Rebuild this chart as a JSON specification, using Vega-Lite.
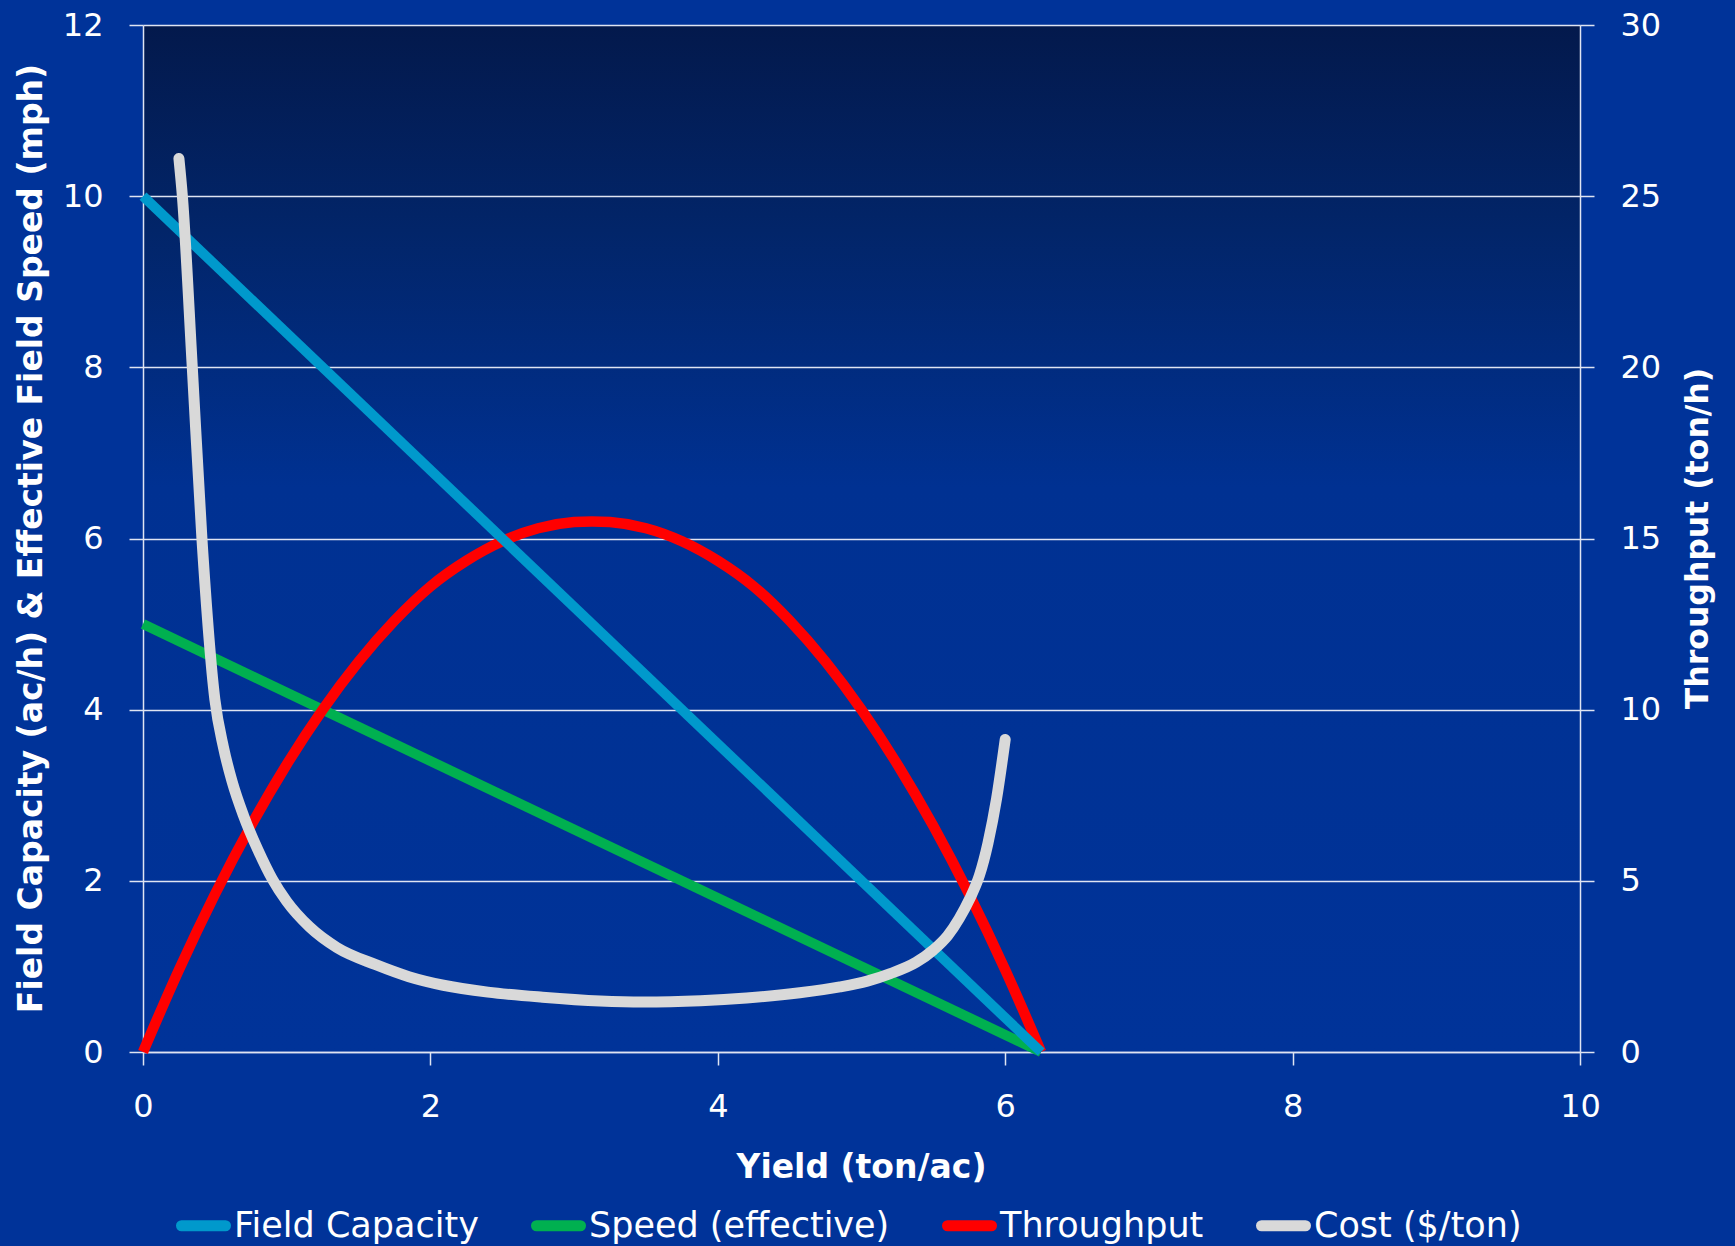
{
  "$schema": "https://vega.github.io/schema/vega-lite/v6.json",
  "width": 1437,
  "height": 1027,
  "autosize": {"type": "none"},
  "padding": {"left": 143, "top": 25, "right": 155, "bottom": 194},
  "background": "#003399",
  "config": {
    "font": "DejaVu Sans",
    "view": {
      "stroke": null,
      "fill": {
        "gradient": "linear",
        "x1": 0, "y1": 0, "x2": 0, "y2": 1,
        "stops": [
          {"offset": 0, "color": "#03194c"},
          {"offset": 0.2, "color": "#022569"},
          {"offset": 0.45, "color": "#003192"},
          {"offset": 1, "color": "#003399"}
        ]
      }
    },
    "axis": {
      "labelColor": "white",
      "labelFont": "DejaVu Sans",
      "labelFontSize": 32,
      "labelFlush": false,
      "titleColor": "white",
      "titleFont": "DejaVu Sans",
      "titleFontWeight": "bold",
      "titleFontSize": 32,
      "domainColor": "#dfe4f2",
      "domainWidth": 1.5,
      "tickColor": "#dfe4f2",
      "tickWidth": 1.5,
      "gridColor": "#dfe4f2",
      "gridWidth": 1.5
    },
    "legend": {
      "orient": "none",
      "legendX": 33,
      "legendY": 1173,
      "direction": "horizontal",
      "columns": 4,
      "symbolType": "stroke",
      "symbolSize": 1936,
      "symbolStrokeWidth": 11,
      "labelFontSize": 35,
      "labelColor": "white",
      "labelFont": "DejaVu Sans",
      "labelLimit": 0,
      "labelOffset": 3,
      "columnPadding": 35,
      "title": null
    }
  },
  "datasets": {
    "rows": [
      {"series": "Field Capacity", "yield": 0, "value": 10},
      {"series": "Field Capacity", "yield": 6.25, "value": 0},
      {"series": "Speed (effective)", "yield": 0, "value": 5},
      {"series": "Speed (effective)", "yield": 6.25, "value": 0},
      {"series": "Throughput", "yield": 0, "value": 0},
      {"series": "Throughput", "yield": 0.25, "value": 2.4},
      {"series": "Throughput", "yield": 0.5, "value": 4.6},
      {"series": "Throughput", "yield": 0.75, "value": 6.6},
      {"series": "Throughput", "yield": 1.0, "value": 8.4},
      {"series": "Throughput", "yield": 1.25, "value": 10.0},
      {"series": "Throughput", "yield": 1.5, "value": 11.4},
      {"series": "Throughput", "yield": 1.75, "value": 12.6},
      {"series": "Throughput", "yield": 2.0, "value": 13.6},
      {"series": "Throughput", "yield": 2.25, "value": 14.35},
      {"series": "Throughput", "yield": 2.5, "value": 14.92},
      {"series": "Throughput", "yield": 2.75, "value": 15.3},
      {"series": "Throughput", "yield": 3.0, "value": 15.48},
      {"series": "Throughput", "yield": 3.125, "value": 15.5},
      {"series": "Throughput", "yield": 3.25, "value": 15.48},
      {"series": "Throughput", "yield": 3.5, "value": 15.3},
      {"series": "Throughput", "yield": 3.75, "value": 14.92},
      {"series": "Throughput", "yield": 4.0, "value": 14.35},
      {"series": "Throughput", "yield": 4.25, "value": 13.6},
      {"series": "Throughput", "yield": 4.5, "value": 12.6},
      {"series": "Throughput", "yield": 4.75, "value": 11.4},
      {"series": "Throughput", "yield": 5.0, "value": 10.0},
      {"series": "Throughput", "yield": 5.25, "value": 8.4},
      {"series": "Throughput", "yield": 5.5, "value": 6.6},
      {"series": "Throughput", "yield": 5.75, "value": 4.6},
      {"series": "Throughput", "yield": 6.0, "value": 2.4},
      {"series": "Throughput", "yield": 6.25, "value": 0},
      {"series": "Cost ($/ton)", "yield": 0.25, "value": 26.1},
      {"series": "Cost ($/ton)", "yield": 0.274, "value": 25.0},
      {"series": "Cost ($/ton)", "yield": 0.343, "value": 20.0},
      {"series": "Cost ($/ton)", "yield": 0.41, "value": 15.0},
      {"series": "Cost ($/ton)", "yield": 0.5, "value": 10.3},
      {"series": "Cost ($/ton)", "yield": 0.56, "value": 8.9},
      {"series": "Cost ($/ton)", "yield": 0.62, "value": 7.9},
      {"series": "Cost ($/ton)", "yield": 0.7, "value": 6.9},
      {"series": "Cost ($/ton)", "yield": 0.8, "value": 5.9},
      {"series": "Cost ($/ton)", "yield": 0.9, "value": 5.05},
      {"series": "Cost ($/ton)", "yield": 1.0, "value": 4.4},
      {"series": "Cost ($/ton)", "yield": 1.16, "value": 3.65},
      {"series": "Cost ($/ton)", "yield": 1.35, "value": 3.05},
      {"series": "Cost ($/ton)", "yield": 1.62, "value": 2.55},
      {"series": "Cost ($/ton)", "yield": 1.85, "value": 2.2},
      {"series": "Cost ($/ton)", "yield": 2.09, "value": 1.95},
      {"series": "Cost ($/ton)", "yield": 2.4, "value": 1.75},
      {"series": "Cost ($/ton)", "yield": 2.78, "value": 1.6},
      {"series": "Cost ($/ton)", "yield": 3.18, "value": 1.49},
      {"series": "Cost ($/ton)", "yield": 3.48, "value": 1.46},
      {"series": "Cost ($/ton)", "yield": 3.88, "value": 1.5},
      {"series": "Cost ($/ton)", "yield": 4.2, "value": 1.58},
      {"series": "Cost ($/ton)", "yield": 4.57, "value": 1.73},
      {"series": "Cost ($/ton)", "yield": 4.85, "value": 1.9},
      {"series": "Cost ($/ton)", "yield": 5.04, "value": 2.07},
      {"series": "Cost ($/ton)", "yield": 5.2, "value": 2.29},
      {"series": "Cost ($/ton)", "yield": 5.38, "value": 2.62},
      {"series": "Cost ($/ton)", "yield": 5.5, "value": 2.98},
      {"series": "Cost ($/ton)", "yield": 5.6, "value": 3.4},
      {"series": "Cost ($/ton)", "yield": 5.68, "value": 3.9},
      {"series": "Cost ($/ton)", "yield": 5.75, "value": 4.45},
      {"series": "Cost ($/ton)", "yield": 5.82, "value": 5.15},
      {"series": "Cost ($/ton)", "yield": 5.88, "value": 6.1},
      {"series": "Cost ($/ton)", "yield": 5.94, "value": 7.4},
      {"series": "Cost ($/ton)", "yield": 6.0, "value": 9.13}
    ]
  },
  "data": {"name": "rows"},
  "encoding": {
    "x": {
      "field": "yield",
      "type": "quantitative",
      "scale": {"domain": [0, 10], "nice": false, "zero": false},
      "axis": {
        "title": "Yield (ton/ac)",
        "titleFontSize": 33,
        "values": [0, 2, 4, 6, 8, 10],
        "grid": false,
        "tickSize": 13,
        "labelPadding": 26,
        "titleBaseline": "middle",
        "titleAlign": "center",
        "titleX": 718,
        "titleY": 115
      }
    },
    "color": {
      "field": "series",
      "type": "nominal",
      "scale": {
        "domain": ["Field Capacity", "Speed (effective)", "Throughput", "Cost ($/ton)"],
        "range": ["#0099cc", "#00b050", "#ff0000", "#d9d9d9"]
      },
      "legend": {
        "encode": {"symbols": {"update": {"strokeCap": {"value": "round"}}}}
      }
    }
  },
  "layer": [
    {
      "transform": [{"filter": "datum.series === 'Speed (effective)'"}],
      "mark": {"type": "line", "strokeWidth": 10},
      "encoding": {
        "y": {
          "field": "value",
          "type": "quantitative",
          "scale": {"domain": [0, 12], "nice": false},
          "axis": {
            "orient": "left",
            "title": "Field Capacity (ac/h) & Effective Field Speed (mph)",
            "titleFontSize": 33,
            "values": [0, 2, 4, 6, 8, 10, 12],
            "grid": true,
            "tickSize": 14,
            "labelPadding": 26,
            "titleAngle": -90,
            "titleBaseline": "middle",
            "titleAlign": "center",
            "titleX": -112,
            "titleY": 513
          }
        }
      }
    },
    {
      "transform": [{"filter": "datum.series === 'Throughput'"}],
      "mark": {"type": "line", "strokeWidth": 10.5, "interpolate": "monotone"},
      "encoding": {
        "y": {
          "field": "value",
          "type": "quantitative",
          "scale": {"domain": [0, 30], "nice": false},
          "axis": {
            "orient": "right",
            "title": "Throughput (ton/h)",
            "titleFontSize": 31.5,
            "values": [0, 5, 10, 15, 20, 25, 30],
            "grid": false,
            "tickSize": 14,
            "labelPadding": 26,
            "titleAngle": -90,
            "titleBaseline": "middle",
            "titleAlign": "center",
            "titleX": 118,
            "titleY": 513
          }
        }
      }
    },
    {
      "transform": [{"filter": "datum.series === 'Field Capacity'"}],
      "mark": {"type": "line", "strokeWidth": 10},
      "encoding": {
        "y": {
          "field": "value",
          "type": "quantitative",
          "scale": {"domain": [0, 12], "nice": false},
          "axis": null
        }
      }
    },
    {
      "transform": [{"filter": "datum.series === 'Cost ($/ton)'"}],
      "mark": {"type": "line", "strokeWidth": 11, "interpolate": "monotone", "strokeCap": "round"},
      "encoding": {
        "y": {
          "field": "value",
          "type": "quantitative",
          "scale": {"domain": [0, 30], "nice": false},
          "axis": null
        }
      }
    }
  ],
  "resolve": {"scale": {"y": "independent"}}
}
